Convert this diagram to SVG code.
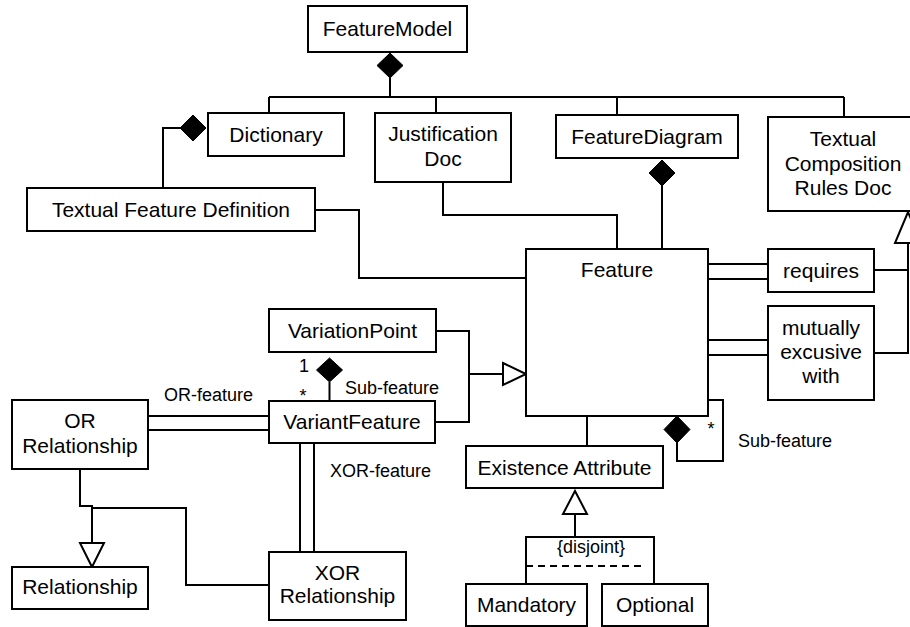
<svg xmlns="http://www.w3.org/2000/svg" width="910" height="627" viewBox="0 0 910 627">
<style>
.box{fill:#fff;stroke:#000;stroke-width:2}
.t{font-family:"Liberation Sans",Arial,sans-serif;font-size:21px;text-anchor:middle;fill:#000}
.s{font-family:"Liberation Sans",Arial,sans-serif;font-size:18px;fill:#000}
.ln{fill:none;stroke:#000;stroke-width:2}
.dia{fill:#000;stroke:#000;stroke-width:1}
.tri{fill:#fff;stroke:#000;stroke-width:2}
</style>
<rect width="910" height="627" fill="#fff"/>
<g id="connectors">
<path class="ln" d="M390 78 V97 M269 97 H844 M269 97 V113 M436 97 V113 M617 97 V115 M844 97 V117"/>
<polygon class="dia" points="390,53 403,65.5 390,78 377,65.5"/>
<path class="ln" d="M180 128 H163 V188"/>
<polygon class="dia" points="206,128 193,141 180,128 193,115"/>
<path class="ln" d="M315 210 H359 V278 H526"/>
<path class="ln" d="M443 182 V215 H617 V249"/>
<path class="ln" d="M662 186 V249"/>
<polygon class="dia" points="662,160 675,173 662,186 649,173"/>
<path class="ln" d="M708 264 H768 M708 279 H768 M874 270 H908"/>
<path class="ln" d="M708 340 H768 M708 355 H768 M874 353 H908 V243"/>
<polygon class="tri" points="908,212 921,243 895,243"/>
<path class="ln" d="M436 331 H469 V422 H435 M469 374 H503"/>
<polygon class="tri" points="503,363 526,374 503,385"/>
<path class="ln" d="M329.5 382 V401"/>
<polygon class="dia" points="329.5,358 342.5,370 329.5,382 316.5,370"/>
<path class="ln" d="M148 416 H269 M148 430 H269"/>
<path class="ln" d="M300 443 V552 M314 443 V552"/>
<path class="ln" d="M80 469 V506 H92 V543"/>
<polygon class="tri" points="80,543 104,543 92,567"/>
<path class="ln" d="M269 585 H186 V508 H92"/>
<path class="ln" d="M587 416 V446"/>
<path class="ln" d="M677 443 V461 H723 V400 H708"/>
<polygon class="dia" points="677,416 690,429.5 677,443 664,429.5"/>
<path class="ln" d="M575 514 V537 M526 584 V537 H654 V584"/>
<polygon class="tri" points="575,491 587,514 563,514"/>
<path class="ln" d="M526 566 H645" stroke-dasharray="7,5"/>
<text class="s" x="304" y="372" text-anchor="middle">1</text>
<text class="s" x="303" y="402" text-anchor="middle">*</text>
<text class="s" x="345" y="394">Sub-feature</text>
<text class="s" x="164" y="401">OR-feature</text>
<text class="s" x="330" y="477">XOR-feature</text>
<text class="s" x="711" y="435" text-anchor="middle">*</text>
<text class="s" x="738" y="447">Sub-feature</text>
<text class="s" x="591" y="553" text-anchor="middle">{disjoint}</text>
</g>
<g id="FeatureModel"><rect class="box" x="308" y="6" width="159" height="46"/><text class="t" x="387.5" y="36">FeatureModel</text></g>
<g id="Dictionary"><rect class="box" x="208" y="113" width="136" height="43"/><text class="t" x="276" y="142">Dictionary</text></g>
<g id="JustificationDoc"><rect class="box" x="375" y="113" width="136" height="69"/><text class="t" x="443" y="141">Justification</text><text class="t" x="443" y="166">Doc</text></g>
<g id="FeatureDiagram"><rect class="box" x="556" y="115" width="182" height="43"/><text class="t" x="647" y="144">FeatureDiagram</text></g>
<g id="TextualCompositionRulesDoc"><rect class="box" x="768" y="117" width="150" height="94"/><text class="t" x="843" y="146">Textual</text><text class="t" x="843" y="171">Composition</text><text class="t" x="843" y="195">Rules Doc</text></g>
<g id="TextualFeatureDefinition"><rect class="box" x="27" y="188" width="288" height="43"/><text class="t" x="171" y="217">Textual Feature Definition</text></g>
<g id="Feature"><rect class="box" x="526" y="249" width="182" height="167"/><text class="t" x="617" y="277">Feature</text></g>
<g id="requires"><rect class="box" x="768" y="249" width="106" height="43"/><text class="t" x="821" y="278">requires</text></g>
<g id="mutuallyExclusive"><rect class="box" x="768" y="306" width="106" height="94"/><text class="t" x="821" y="335">mutually</text><text class="t" x="821" y="359">excusive</text><text class="t" x="821" y="383">with</text></g>
<g id="VariationPoint"><rect class="box" x="269" y="309" width="167" height="43"/><text class="t" x="352.5" y="338">VariationPoint</text></g>
<g id="VariantFeature"><rect class="box" x="269" y="401" width="166" height="42"/><text class="t" x="352" y="429">VariantFeature</text></g>
<g id="ORRelationship"><rect class="box" x="12" y="400" width="136" height="69"/><text class="t" x="80" y="428">OR</text><text class="t" x="80" y="453">Relationship</text></g>
<g id="Relationship"><rect class="box" x="12" y="567" width="136" height="42"/><text class="t" x="80" y="594">Relationship</text></g>
<g id="XORRelationship"><rect class="box" x="269" y="552" width="137" height="68"/><text class="t" x="337.5" y="580">XOR</text><text class="t" x="337.5" y="603">Relationship</text></g>
<g id="ExistenceAttribute"><rect class="box" x="466" y="446" width="197" height="42"/><text class="t" x="564.5" y="475">Existence Attribute</text></g>
<g id="Mandatory"><rect class="box" x="466" y="584" width="121" height="42"/><text class="t" x="526.5" y="612">Mandatory</text></g>
<g id="Optional"><rect class="box" x="602" y="584" width="106" height="42"/><text class="t" x="655" y="612">Optional</text></g>
</svg>
